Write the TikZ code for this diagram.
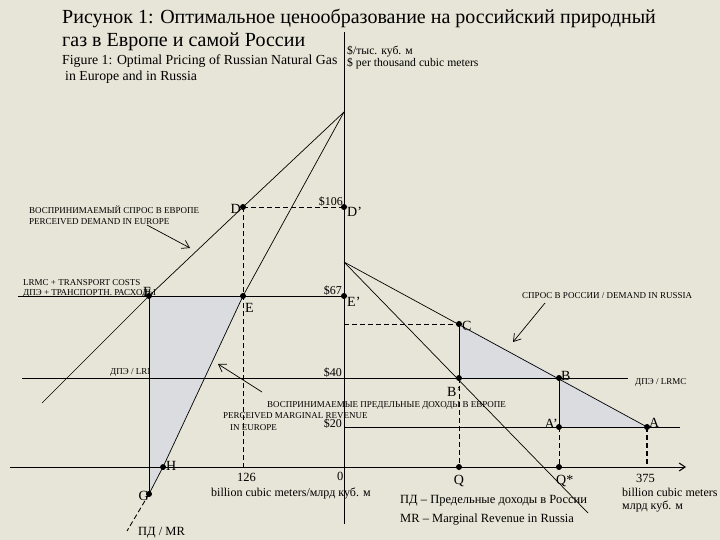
\documentclass[tikz,border=0pt]{standalone}
\usepackage{fontspec}
\setmainfont{Liberation Serif}
\usetikzlibrary{arrows.meta}
\definecolor{bgc}{RGB}{230,229,215}
\definecolor{shadec}{RGB}{219,220,223}
\newcommand{\myfs}[1]{\fontsize{#1}{#1}\selectfont}
\begin{document}
\begin{tikzpicture}[x=1pt,y=-1pt,
  dot/.style={circle,fill=black,inner sep=0pt,minimum size=5.5pt},
  axisline/.style={line width=1pt},
  thinline/.style={line width=0.7pt},
  dashline/.style={line width=0.9pt,dash pattern=on 5pt off 3pt},
  thickdash/.style={line width=2.2pt,dash pattern=on 5pt off 3pt},
  txt/.style={inner sep=0pt,anchor=base west},
  txte/.style={inner sep=0pt,anchor=base east},
  ptlbl/.style={inner sep=0pt,font=\myfs{14}},
  price/.style={inner sep=0pt,anchor=base east,font=\myfs{12}},
  caps/.style={inner sep=0pt,anchor=base west,font=\myfs{9}},
  pointer/.style={line width=0.7pt,-{Straight Barb[length=7pt,width=9pt]}}]
\fill[bgc] (0,0) rectangle (720,540);
\useasboundingbox (0,0) rectangle (720,540);
% coordinates
\coordinate (ytop) at (344,32);
\coordinate (ybot) at (344,524);
\coordinate (apex) at (344,112);
\coordinate (R0) at (344,262);
\coordinate (Lleft) at (18,296);
\coordinate (L40) at (22,378);
\coordinate (R40) at (628,378);
\coordinate (L20) at (344,427);
\coordinate (R20) at (680,427);
\coordinate (xl) at (10,467);
\coordinate (xr) at (686,467);
\coordinate (pdend) at (42,403);
\coordinate (mrend) at (127,531);
\coordinate (mrrus) at (588,513);
\coordinate (Cy) at (344,324);
\coordinate (x126) at (243,467);
\coordinate (x375) at (647,467);
% left text drawn under the shading
\node[caps] (lrilbl) at (110,374) {ДПЭ / LRMC};
% points
\node[dot] (D) at (243,207) {};
\node[dot] (Dp) at (344,207) {};
\node[dot] (E) at (243,296) {};
\node[dot] (Ep) at (344,296) {};
\node[dot] (F) at (149,296) {};
\node[dot] (H) at (163,467) {};
\node[dot] (G) at (149,494) {};
\node[dot] (C) at (459,324) {};
\node[dot] (Bp) at (459,378) {};
\node[dot] (B) at (559,378) {};
\node[dot] (Ap) at (559,427) {};
\node[dot] (A) at (647,427) {};
\node[dot] (Q) at (459,467) {};
\node[dot] (Qs) at (559,467) {};
% shading
\fill[shadec] (F.center) -- (E.center) -- (H.center) -- (G.center) -- cycle;
\fill[shadec] (C.center) -- (Bp.center) -- (B.center) -- cycle;
\fill[shadec] (B.center) -- (Ap.center) -- (A.center) -- cycle;
% axes and levels
\draw[axisline] (ytop) -- (ybot);
\draw[axisline,-{Straight Barb[length=6pt,width=8pt]}] (xl) -- (xr);
\draw[axisline] (Lleft) -- (Ep.center);
\draw[axisline] (L40) -- (R40);
\draw[axisline] (L20) -- (R20);
% curves
\draw[thinline] (apex) -- (D.center) -- (F.center) -- (pdend);
\draw[thinline] (apex) -- (E.center) -- (H.center) -- (G.center);
\draw[dashline] (G.center) -- (mrend);
\draw[thinline] (R0) -- (A.center);
\draw[thinline] (R0) -- (mrrus);
% verticals
\draw[axisline] (F.center) -- (G.center);
\draw[axisline] (C.center) -- (Bp.center);
\draw[axisline] (B.center) -- (Ap.center);
\draw[dashline] (Bp.center) -- (Q.center);
\draw[dashline] (Ap.center) -- (Qs.center);
\draw[thickdash] (A.center) -- (x375);
\draw[dashline] (D.center) -- (Dp.center);
\draw[dashline] (D.center) -- (E.center) -- (x126);
\draw[dashline] (Cy) -- (C.center);
% redraw dots on top
\foreach \p in {D,Dp,E,Ep,F,H,G,C,Bp,B,Ap,A,Q,Qs} \fill (\p) circle (2.9pt);
% title
\node[txt,font=\myfs{20}] (t1) at (62,24) {Рисунок 1: Оптимальное ценообразование на российский природный};
\node[txt,font=\myfs{20}] (t2) at (62,47) {газ в Европе и самой России};
\node[txt,font=\myfs{13.8}] (t3) at (62,65) {Figure 1: Optimal Pricing of Russian Natural Gas};
\node[txt,font=\myfs{13.8}] (t4) at (65,81) {in Europe and in Russia};
\node[txt,font=\myfs{11.7}] (u1) at (347,55) {\$/тыс. куб. м};
\node[txt,font=\myfs{11.7}] (u2) at (347,67) {\$ per thousand cubic meters};
% prices
\node[price] (p106) at (343,206) {\$106};
\node[price] (p67) at (342,294) {\$67};
\node[price] (p40) at (342,376) {\$40};
\node[price] (p20) at (342,427) {\$20};
% point labels
\node[ptlbl,anchor=base east] (lD) at (241,214) {D};
\node[ptlbl,anchor=base west] (lDp) at (347,217) {D'};
\node[ptlbl,anchor=base west] (lE) at (245,312) {E};
\node[ptlbl,anchor=base west] (lEp) at (347,306) {E'};
\node[ptlbl,anchor=base west] (lF) at (143,296) {F};
\node[ptlbl,anchor=base west] (lC) at (462,330) {C};
\node[ptlbl,anchor=base west] (lBp) at (447,396) {B'};
\node[ptlbl,anchor=base west] (lB) at (561,380) {B};
\node[ptlbl,anchor=base east] (lAp) at (558,428) {A'};
\node[ptlbl,anchor=base west] (lA) at (649,427) {A};
\node[ptlbl,anchor=base west] (lH) at (166,470) {H};
\node[ptlbl,anchor=base east] (lG) at (149,500) {G};
\node[ptlbl,anchor=base] (lQ) at (459,484) {Q};
\node[ptlbl,anchor=base west] (lQs) at (556,484) {Q*};
% axis numbers
\node[txt,font=\myfs{12.5}] (n0) at (337,480) {0};
\node[txt,font=\myfs{12.5}] (n126) at (237,481) {126};
\node[txt,font=\myfs{12.5}] (n375) at (636,482) {375};
\node[txt,font=\myfs{12}] (xu1) at (211,496) {billion cubic meters/млрд куб. м};
\node[txt,font=\myfs{12}] (xu2) at (622,496) {billion cubic meters};
\node[txt,font=\myfs{12}] (xu3) at (622,509) {млрд куб. м};
\node[txt,font=\myfs{12.5}] (leg1) at (400,503) {ПД -- Предельные доходы в России};
\node[txt,font=\myfs{12.5}] (leg2) at (400,522) {MR -- Marginal Revenue in Russia};
\node[txt,font=\myfs{12.5}] (mrlbl) at (138,535) {ПД / MR};
% caps labels
\node[caps] (pd1) at (29,214) {ВОСПРИНИМАЕМЫЙ СПРОС В ЕВРОПЕ};
\node[caps] (pd2) at (29,225) {PERCEIVED DEMAND IN EUROPE};
\node[caps] (tc1) at (23,285) {LRMC + TRANSPORT COSTS};
\node[caps] (tc2) at (23,295) {ДПЭ + ТРАНСПОРТН. РАСХОДЫ};
\node[caps] (pm1) at (267,407) {ВОСПРИНИМАЕМЫЕ ПРЕДЕЛЬНЫЕ ДОХОДЫ В ЕВРОПЕ};
\node[caps] (pm2) at (223,418) {PERCEIVED MARGINAL REVENUE};
\node[caps] (pm3) at (230,430) {IN EUROPE};
\node[caps] (dr) at (522,298) {СПРОС В РОССИИ / DEMAND IN RUSSIA};
\node[caps] (lrmc) at (635,384) {ДПЭ / LRMC};
% pointers
\coordinate (a1s) at (147,225);
\coordinate (a1e) at (190,248);
\coordinate (a2s) at (262,392);
\coordinate (a2e) at (218,364);
\coordinate (a3s) at (545,303);
\coordinate (a3e) at (513,342);
\draw[pointer] (a1s) -- (a1e);
\draw[pointer] (a2s) -- (a2e);
\draw[pointer] (a3s) -- (a3e);
\end{tikzpicture}
\end{document}
